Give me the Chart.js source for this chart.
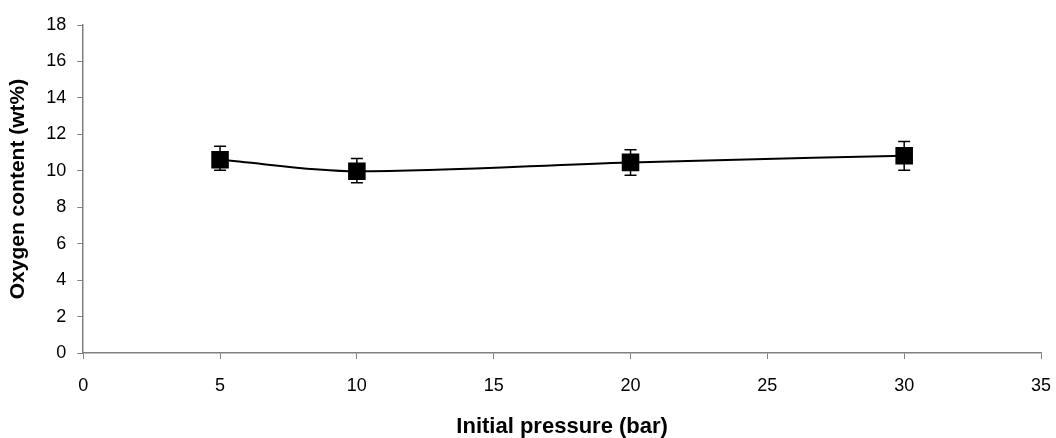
<!DOCTYPE html>
<html>
<head>
<meta charset="utf-8">
<script src="https://cdn.jsdelivr.net/npm/chart.js@4/dist/chart.umd.min.js"></script>
<style>
  html, body { margin: 0; padding: 0; background: #fff; }
  #wrap { width: 1056px; height: 438px; position: relative; }
</style>
</head>
<body>
<div id="wrap"><canvas id="myChart"></canvas></div>
<script>
const pressures = [5, 10, 20, 30];
const oxygen = [10.6, 9.97, 10.46, 10.83];
const errLow = [10.03, 9.34, 9.75, 10.03];
const errHigh = [11.34, 10.68, 11.16, 11.6];

// draws vertical error bars with caps
const errorBars = {
  id: 'errorBars',
  afterDatasetsDraw(chart) {
    const { ctx, scales: { x, y } } = chart;
    ctx.save();
    ctx.strokeStyle = '#000';
    ctx.lineWidth = 1.5;
    pressures.forEach((p, i) => {
      const px = x.getPixelForValue(p);
      const top = y.getPixelForValue(errHigh[i]);
      const bot = y.getPixelForValue(errLow[i]);
      ctx.beginPath();
      ctx.moveTo(px, top); ctx.lineTo(px, bot);
      ctx.moveTo(px - 6, top); ctx.lineTo(px + 6, top);
      ctx.moveTo(px - 6, bot); ctx.lineTo(px + 6, bot);
      ctx.stroke();
    });
    ctx.restore();
  }
};

const tickFont = { family: 'Liberation Sans, Arial, sans-serif', size: 18 };

new Chart(document.getElementById('myChart').getContext('2d'), {
  type: 'scatter',
  data: {
    datasets: [{
      data: pressures.map((p, i) => ({ x: p, y: oxygen[i] })),
      showLine: true,
      borderColor: '#000',
      borderWidth: 2,
      backgroundColor: '#000',
      pointStyle: 'rect',
      pointRadius: 11,
      pointHoverRadius: 11,
      cubicInterpolationMode: 'monotone',
    }],
  },
  options: {
    responsive: true,
    maintainAspectRatio: false,
    animation: false,
    layout: { autoPadding: false, padding: { top: 25, right: 15, left: 6, bottom: -2 } },
    plugins: { legend: { display: false }, tooltip: { enabled: false } },
    scales: {
      x: {
        type: 'linear',
        min: 0, max: 35,
        afterFit(scale) { scale.paddingRight = 0; },
        ticks: { stepSize: 5, color: '#000', font: tickFont, padding: 16 },
        grid: { drawOnChartArea: false, tickLength: 6, color: '#808080' },
        border: { color: '#808080', width: 1.5 },
        title: { display: true, text: 'Initial pressure (bar)', color: '#000',
          font: { family: 'Liberation Sans, Arial, sans-serif', size: 22, weight: 'bold' },
          padding: { top: 1, bottom: 0 } },
      },
      y: {
        min: 0, max: 18,
        ticks: { stepSize: 2, color: '#000', font: tickFont, padding: 11 },
        grid: { drawOnChartArea: false, tickLength: 6, color: '#808080' },
        border: { color: '#808080', width: 1.5 },
        title: { display: true, text: 'Oxygen content (wt%)', color: '#000',
          font: { family: 'Liberation Sans, Arial, sans-serif', size: 21, weight: 'bold' },
          padding: { top: 0, bottom: 4 } },
      },
    },
  },
  plugins: [errorBars],
});
</script>
</body>
</html>
